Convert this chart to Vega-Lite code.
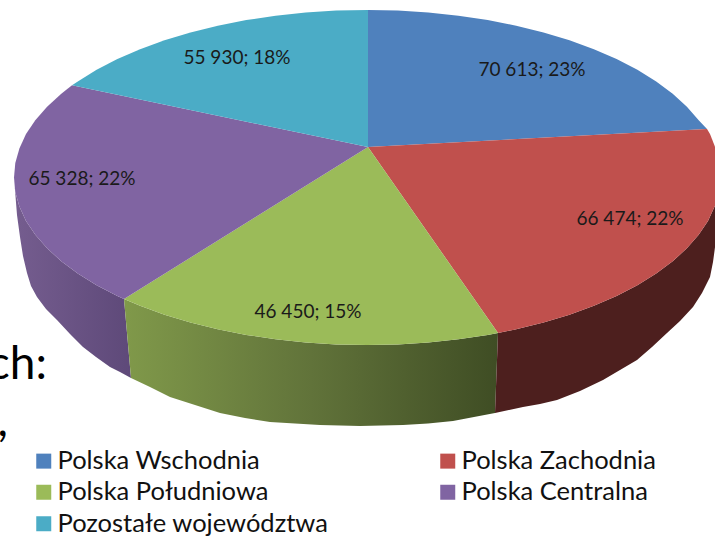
{"$schema":"https://vega.github.io/schema/vega-lite/v6.json","width":715,"height":536,"padding":0,"autosize":{"type":"none"},"background":"white","config":{"view":{"stroke":null}},
"datasets":{
"top":[
{"slice":"Polska Wschodnia","i":0,"x":368,"y":147},{"slice":"Polska Wschodnia","i":1,"x":368,"y":10},{"slice":"Polska Wschodnia","i":2,"x":397.8,"y":10.6},{"slice":"Polska Wschodnia","i":3,"x":428.3,"y":12.5},{"slice":"Polska Wschodnia","i":4,"x":458.4,"y":15.7},{"slice":"Polska Wschodnia","i":5,"x":487.7,"y":20.1},{"slice":"Polska Wschodnia","i":6,"x":516.2,"y":25.7},{"slice":"Polska Wschodnia","i":7,"x":543.5,"y":32.4},{"slice":"Polska Wschodnia","i":8,"x":569.5,"y":40.3},{"slice":"Polska Wschodnia","i":9,"x":593.9,"y":49.2},{"slice":"Polska Wschodnia","i":10,"x":616.6,"y":59.1},{"slice":"Polska Wschodnia","i":11,"x":637.4,"y":69.8},{"slice":"Polska Wschodnia","i":12,"x":656.2,"y":81.4},{"slice":"Polska Wschodnia","i":13,"x":672.7,"y":93.75},{"slice":"Polska Wschodnia","i":14,"x":686.9,"y":106.7},{"slice":"Polska Wschodnia","i":15,"x":698.7,"y":120.2},{"slice":"Polska Wschodnia","i":16,"x":707,"y":129},
{"slice":"Polska Zachodnia","i":0,"x":368,"y":147},{"slice":"Polska Zachodnia","i":1,"x":707,"y":129},{"slice":"Polska Zachodnia","i":2,"x":710,"y":134.1},{"slice":"Polska Zachodnia","i":3,"x":715.6,"y":148.4},{"slice":"Polska Zachodnia","i":4,"x":718.7,"y":162.9},{"slice":"Polska Zachodnia","i":5,"x":720,"y":177.5},{"slice":"Polska Zachodnia","i":6,"x":718.7,"y":192.1},{"slice":"Polska Zachodnia","i":7,"x":714.6,"y":206.6},{"slice":"Polska Zachodnia","i":8,"x":708,"y":220.9},{"slice":"Polska Zachodnia","i":9,"x":698.7,"y":234.8},{"slice":"Polska Zachodnia","i":10,"x":686.9,"y":248.3},{"slice":"Polska Zachodnia","i":11,"x":672.7,"y":261.25},{"slice":"Polska Zachodnia","i":12,"x":656.2,"y":273.6},{"slice":"Polska Zachodnia","i":13,"x":637.4,"y":285.2},{"slice":"Polska Zachodnia","i":14,"x":616.6,"y":295.9},{"slice":"Polska Zachodnia","i":15,"x":593.9,"y":305.8},{"slice":"Polska Zachodnia","i":16,"x":569.5,"y":314.7},{"slice":"Polska Zachodnia","i":17,"x":543.5,"y":322.6},{"slice":"Polska Zachodnia","i":18,"x":516.2,"y":329.3},{"slice":"Polska Zachodnia","i":19,"x":498,"y":333},
{"slice":"Polska Południowa","i":0,"x":368,"y":147},{"slice":"Polska Południowa","i":1,"x":498,"y":333},{"slice":"Polska Południowa","i":2,"x":487.7,"y":334.9},{"slice":"Polska Południowa","i":3,"x":458.4,"y":339.3},{"slice":"Polska Południowa","i":4,"x":428.3,"y":342.5},{"slice":"Polska Południowa","i":5,"x":397.8,"y":344.4},{"slice":"Polska Południowa","i":6,"x":367,"y":345},{"slice":"Polska Południowa","i":7,"x":336.2,"y":344.4},{"slice":"Polska Południowa","i":8,"x":305.7,"y":342.5},{"slice":"Polska Południowa","i":9,"x":275.6,"y":339.3},{"slice":"Polska Południowa","i":10,"x":246.3,"y":334.9},{"slice":"Polska Południowa","i":11,"x":217.8,"y":329.3},{"slice":"Polska Południowa","i":12,"x":190.5,"y":322.6},{"slice":"Polska Południowa","i":13,"x":164.5,"y":314.7},{"slice":"Polska Południowa","i":14,"x":140.1,"y":305.8},{"slice":"Polska Południowa","i":15,"x":124,"y":299},
{"slice":"Polska Centralna","i":0,"x":368,"y":147},{"slice":"Polska Centralna","i":1,"x":124,"y":299},{"slice":"Polska Centralna","i":2,"x":117.4,"y":295.9},{"slice":"Polska Centralna","i":3,"x":96.6,"y":285.2},{"slice":"Polska Centralna","i":4,"x":77.8,"y":273.6},{"slice":"Polska Centralna","i":5,"x":61.3,"y":261.25},{"slice":"Polska Centralna","i":6,"x":47.1,"y":248.3},{"slice":"Polska Centralna","i":7,"x":35.3,"y":234.8},{"slice":"Polska Centralna","i":8,"x":26,"y":220.9},{"slice":"Polska Centralna","i":9,"x":19.4,"y":206.6},{"slice":"Polska Centralna","i":10,"x":15.3,"y":192.1},{"slice":"Polska Centralna","i":11,"x":14,"y":177.5},{"slice":"Polska Centralna","i":12,"x":15.3,"y":162.9},{"slice":"Polska Centralna","i":13,"x":19.4,"y":148.4},{"slice":"Polska Centralna","i":14,"x":26,"y":134.1},{"slice":"Polska Centralna","i":15,"x":35.3,"y":120.2},{"slice":"Polska Centralna","i":16,"x":47.1,"y":106.7},{"slice":"Polska Centralna","i":17,"x":61.3,"y":93.75},{"slice":"Polska Centralna","i":18,"x":72,"y":85.3},
{"slice":"Pozostałe województwa","i":0,"x":368,"y":147},{"slice":"Pozostałe województwa","i":1,"x":72,"y":85.3},{"slice":"Pozostałe województwa","i":2,"x":77.8,"y":81.4},{"slice":"Pozostałe województwa","i":3,"x":96.6,"y":69.8},{"slice":"Pozostałe województwa","i":4,"x":117.4,"y":59.1},{"slice":"Pozostałe województwa","i":5,"x":140.1,"y":49.2},{"slice":"Pozostałe województwa","i":6,"x":164.5,"y":40.3},{"slice":"Pozostałe województwa","i":7,"x":190.5,"y":32.4},{"slice":"Pozostałe województwa","i":8,"x":217.8,"y":25.7},{"slice":"Pozostałe województwa","i":9,"x":246.3,"y":20.1},{"slice":"Pozostałe województwa","i":10,"x":275.6,"y":15.7},{"slice":"Pozostałe województwa","i":11,"x":305.7,"y":12.5},{"slice":"Pozostałe województwa","i":12,"x":336.2,"y":10.6},{"slice":"Pozostałe województwa","i":13,"x":368,"y":10}
],
"wallPurple":[{"i":0,"x":124,"y":299},{"i":1,"x":117.4,"y":295.9},{"i":2,"x":96.6,"y":285.2},{"i":3,"x":77.8,"y":273.6},{"i":4,"x":61.3,"y":261.25},{"i":5,"x":47.1,"y":248.3},{"i":6,"x":35.3,"y":234.8},{"i":7,"x":26,"y":220.9},{"i":8,"x":19.4,"y":206.6},{"i":9,"x":15.3,"y":192.1},{"i":10,"x":14,"y":177.5},{"i":11,"x":17,"y":215},{"i":12,"x":20,"y":237},{"i":13,"x":23,"y":256},{"i":14,"x":27,"y":273},{"i":15,"x":31,"y":286},{"i":16,"x":37,"y":297},{"i":17,"x":46,"y":309},{"i":18,"x":57,"y":320},{"i":19,"x":70,"y":334},{"i":20,"x":83,"y":347},{"i":21,"x":96,"y":357},{"i":22,"x":110,"y":367},{"i":23,"x":120,"y":372},{"i":24,"x":131,"y":378}],
"wallGreen":[{"i":0,"x":124,"y":299},{"i":1,"x":140.1,"y":305.8},{"i":2,"x":164.5,"y":314.7},{"i":3,"x":190.5,"y":322.6},{"i":4,"x":217.8,"y":329.3},{"i":5,"x":246.3,"y":334.9},{"i":6,"x":275.6,"y":339.3},{"i":7,"x":305.7,"y":342.5},{"i":8,"x":336.2,"y":344.4},{"i":9,"x":367,"y":345},{"i":10,"x":397.8,"y":344.4},{"i":11,"x":428.3,"y":342.5},{"i":12,"x":458.4,"y":339.3},{"i":13,"x":487.7,"y":334.9},{"i":14,"x":498,"y":333},{"i":15,"x":495,"y":413},{"i":16,"x":453,"y":421},{"i":17,"x":428,"y":423.5},{"i":18,"x":403,"y":425},{"i":19,"x":360,"y":426},{"i":20,"x":320,"y":425},{"i":21,"x":270,"y":422},{"i":22,"x":245,"y":418},{"i":23,"x":220,"y":413},{"i":24,"x":195,"y":405},{"i":25,"x":170,"y":397},{"i":26,"x":150,"y":387},{"i":27,"x":131,"y":378}],
"wallRed":[{"i":0,"x":498,"y":333},{"i":1,"x":516.2,"y":329.3},{"i":2,"x":543.5,"y":322.6},{"i":3,"x":569.5,"y":314.7},{"i":4,"x":593.9,"y":305.8},{"i":5,"x":616.6,"y":295.9},{"i":6,"x":637.4,"y":285.2},{"i":7,"x":656.2,"y":273.6},{"i":8,"x":672.7,"y":261.25},{"i":9,"x":686.9,"y":248.3},{"i":10,"x":698.7,"y":234.8},{"i":11,"x":708,"y":220.9},{"i":12,"x":714.6,"y":206.6},{"i":13,"x":720,"y":195},{"i":14,"x":716,"y":240},{"i":15,"x":713,"y":262},{"i":16,"x":710,"y":277},{"i":17,"x":702,"y":293},{"i":18,"x":693,"y":307},{"i":19,"x":680,"y":321},{"i":20,"x":667,"y":333},{"i":21,"x":652,"y":347},{"i":22,"x":637,"y":360},{"i":23,"x":620,"y":370},{"i":24,"x":603,"y":380},{"i":25,"x":580,"y":391},{"i":26,"x":557,"y":400},{"i":27,"x":540,"y":404},{"i":28,"x":523,"y":407},{"i":29,"x":495,"y":413}],
"labels":[{"label":"70 613; 23%","x":532,"y":70},{"label":"66 474; 22%","x":630,"y":219},{"label":"46 450; 15%","x":308,"y":312},{"label":"65 328; 22%","x":82,"y":179},{"label":"55 930; 18%","x":237,"y":58}],
"behind":[{"t":"ch:","x":47,"y":379},{"t":",","x":8,"y":436}]
},
"layer":[
{"data":{"name":"behind"},"mark":{"type":"text","align":"right","baseline":"alphabetic","font":"Lato","fontSize":46,"color":"#000000"},"encoding":{"x":{"field":"x","type":"quantitative","scale":{"domain":[0,715],"nice":false,"zero":false},"axis":null},"y":{"field":"y","type":"quantitative","scale":{"domain":[536,0],"nice":false,"zero":false},"axis":null},"text":{"field":"t"}}},
{"data":{"name":"wallPurple"},"mark":{"type":"line","interpolate":"linear-closed","strokeWidth":0,"fill":{"gradient":"linear","x1":0,"y1":0,"x2":1,"y2":0,"stops":[{"offset":0,"color":"#755D8F"},{"offset":1,"color":"#5E4979"}]}},"encoding":{"x":{"field":"x","type":"quantitative","axis":null},"y":{"field":"y","type":"quantitative","axis":null},"order":{"field":"i"}}},
{"data":{"name":"wallGreen"},"mark":{"type":"line","interpolate":"linear-closed","strokeWidth":0,"fill":{"gradient":"linear","x1":0,"y1":0,"x2":1,"y2":0,"stops":[{"offset":0,"color":"#80994A"},{"offset":0.5,"color":"#61733A"},{"offset":1,"color":"#3F4D24"}]}},"encoding":{"x":{"field":"x","type":"quantitative","axis":null},"y":{"field":"y","type":"quantitative","axis":null},"order":{"field":"i"}}},
{"data":{"name":"wallRed"},"mark":{"type":"line","interpolate":"linear-closed","strokeWidth":0,"fill":"#4D1F1E"},"encoding":{"x":{"field":"x","type":"quantitative","axis":null},"y":{"field":"y","type":"quantitative","axis":null},"order":{"field":"i"}}},
{"data":{"name":"top"},"mark":{"type":"line","interpolate":"linear-closed","filled":true,"strokeWidth":0},"encoding":{"x":{"field":"x","type":"quantitative","axis":null},"y":{"field":"y","type":"quantitative","axis":null},"order":{"field":"i"},"color":{"field":"slice","type":"nominal","scale":{"domain":["Polska Wschodnia","Polska Południowa","Pozostałe województwa","Polska Zachodnia","Polska Centralna"],"range":["#4F81BD","#9BBB59","#4BACC6","#C0504D","#8064A2"]},"legend":{"title":null,"orient":"none","legendX":31,"legendY":448,"columns":2,"symbolType":"square","symbolSize":225,"symbolStrokeWidth":0,"labelFont":"Lato","labelFontSize":25.5,"labelColor":"#111111","labelLimit":400,"labelOffset":1,"rowPadding":4.5,"columnPadding":106,"padding":0}}}},
{"data":{"name":"labels"},"mark":{"type":"text","font":"Lato","fontSize":19,"color":"#1a1a1a"},"encoding":{"x":{"field":"x","type":"quantitative","axis":null},"y":{"field":"y","type":"quantitative","axis":null},"text":{"field":"label"}}}
],
"resolve":{"scale":{"x":"shared","y":"shared"}}}
